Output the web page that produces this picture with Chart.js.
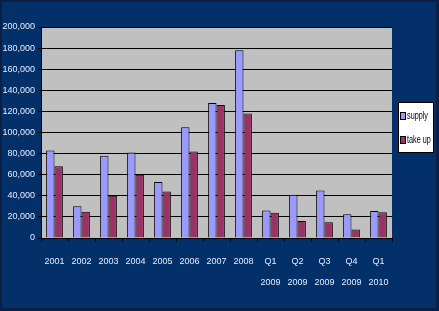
<!DOCTYPE html>
<html>
<head>
<meta charset="utf-8">
<script src="https://cdn.jsdelivr.net/npm/chart.js@4/dist/chart.umd.min.js"></script>
<style>
  html, body { margin: 0; padding: 0; background: #04306a; }
  #wrap { width: 439px; height: 311px; }
</style>
</head>
<body>
<div id="wrap"><canvas id="grafico" width="439" height="311"></canvas></div>
<script>
const periodos = ["2001", "2002", "2003", "2004", "2005", "2006", "2007", "2008",
    ["Q1", "2009"], ["Q2", "2009"], ["Q3", "2009"], ["Q4", "2009"], ["Q1", "2010"]];
const supply = [83000, 30000, 78000, 81000, 53000, 105000, 128000, 178000, 26000, 41000, 45000, 22500, 25500];
const takeUp = [68000, 25000, 40000, 60000, 44000, 82000, 126000, 118000, 24000, 16000, 15000, 8000, 24500];
const yTicks = [0, 20000, 40000, 60000, 80000, 100000, 120000, 140000, 160000, 180000, 200000];

const fonte = "'Liberation Sans', Arial, sans-serif";
const corTexto = "#e6ecff";

const fundo = {
    id: "fundo",
    beforeDraw(chart) {
        const { ctx, chartArea: a } = chart;
        ctx.save();
        ctx.fillStyle = "#0b1f45";
        ctx.fillRect(0, 0, chart.width, chart.height);
        ctx.fillStyle = "#04306a";
        ctx.fillRect(2, 2, chart.width - 5, chart.height - 5);
        ctx.fillStyle = "#c0c0c0";
        ctx.fillRect(a.left, a.top, a.right - a.left, a.bottom - a.top);
        ctx.restore();
    },
    afterDraw(chart) {
        const ctx = chart.ctx;
        const x = 398, y = 102, w = 36, h = 51;
        ctx.save();
        ctx.fillStyle = "#ffffff";
        ctx.fillRect(x, y, w, h);
        ctx.strokeStyle = "#000000";
        ctx.lineWidth = 1;
        ctx.strokeRect(x + 0.5, y + 0.5, w - 1, h - 1);
        ctx.textBaseline = "middle";
        chart.data.datasets.forEach((ds, i) => {
            const cy = y + 14 + i * 24;
            ctx.fillStyle = ds.backgroundColor;
            ctx.fillRect(x + 2.5, cy - 3.5, 5, 7);
            ctx.strokeStyle = "#000";
            ctx.strokeRect(x + 2.5, cy - 3.5, 5, 7);
            // texto estreito, como no original
            ctx.save();
            ctx.translate(x + 9, cy);
            ctx.scale(0.66, 1);
            ctx.font = "11px " + fonte;
            ctx.fillStyle = "#000";
            ctx.fillText(ds.label, 0, 0);
            ctx.restore();
        });
        ctx.restore();
    }
};

new Chart(document.getElementById("grafico"), {
    type: "bar",
    data: {
        labels: periodos,
        datasets: [
            { label: "supply", data: supply, backgroundColor: "#9999ff", borderColor: "#000", borderWidth: 1 },
            { label: "take up", data: takeUp, backgroundColor: "#993366", borderColor: "#000", borderWidth: 1 }
        ]
    },
    options: {
        responsive: false,
        animation: false,
        layout: { padding: { top: 27, right: 47, bottom: 13, left: 0 } },
        datasets: { bar: { categoryPercentage: 0.62, barPercentage: 1 } },
        plugins: {
            legend: { display: false },
            tooltip: { enabled: false }
        },
        scales: {
            x: {
                grid: { drawOnChartArea: false, drawTicks: true, tickLength: 4, color: "#000", offset: true },
                border: { color: "#000", width: 1 },
                ticks: {
                    color: corTexto,
                    font: { family: fonte, size: 9, lineHeight: 2.35 },
                    padding: 9,
                    maxRotation: 0,
                    autoSkip: false
                },
                afterFit: s => { s.height = 60; }
            },
            y: {
                min: 0,
                max: 200000,
                afterBuildTicks: s => { s.ticks = yTicks.map(v => ({ value: v })); },
                grid: { color: "#000", lineWidth: 1, tickLength: 3 },
                border: { color: "#000", width: 1 },
                ticks: {
                    color: corTexto,
                    font: { family: fonte, size: 9 },
                    padding: 3,
                    callback: v => v.toLocaleString("en-US")
                },
                afterFit: s => { s.width = 41; }
            }
        }
    },
    plugins: [fundo]
});
</script>
</body>
</html>
